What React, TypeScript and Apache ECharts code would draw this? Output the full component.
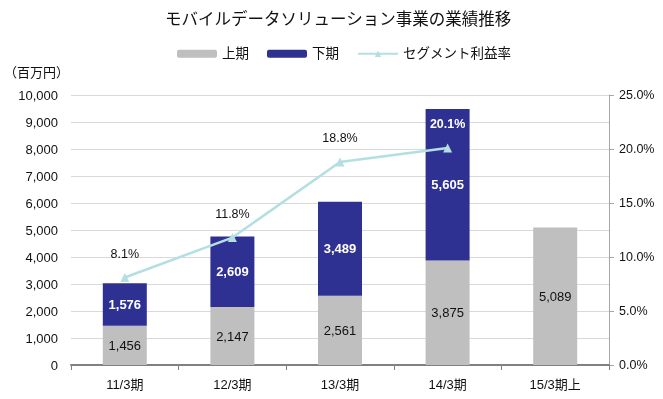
import React, { useEffect, useRef } from "react";
import * as echarts from "echarts";

const categories = ["11/3期", "12/3期", "13/3期", "14/3期", "15/3期上"];
const firstHalf = [1456, 2147, 2561, 3875, 5089];
const secondHalf: (number | null)[] = [1576, 2609, 3489, 5605, null];
const marginRate: (number | null)[] = [8.1, 11.8, 18.8, 20.1, null];
const leftTicks = { min: 0, max: 10000, interval: 1000 };
const rightTicks = { min: 0, max: 25, interval: 5 };

const FONT = "'Liberation Sans', 'Noto Sans CJK JP', sans-serif";

export default function App() {
  const ref = useRef<HTMLDivElement>(null);
  useEffect(() => {
    if (!ref.current) return;
    const chart = echarts.init(ref.current, null, { renderer: "svg" });
    const fmt = (v: number) => v.toLocaleString("en-US");
    chart.setOption({
      animation: false,
      textStyle: { fontFamily: FONT },
      title: {
        text: "モバイルデータソリューション事業の業績推移",
        left: 160,
        top: 6,
        textStyle: { fontSize: 16.5, fontWeight: "normal", color: "#111", fontFamily: FONT },
      },
      legend: {
        top: 42,
        left: 172,
        itemWidth: 40,
        itemHeight: 8,
        itemGap: 18,
        textStyle: { fontSize: 13.5, color: "#111", fontFamily: FONT },
        data: ["上期", "下期", "セグメント利益率"],
      },
      graphic: [
        {
          type: "text",
          left: 4,
          top: 66,
          style: { text: "（百万円）", fontSize: 13, fill: "#111", fontFamily: FONT },
        },
      ],
      grid: { left: 71, right: 54, top: 95, bottom: 34 },
      xAxis: {
        type: "category",
        data: categories,
        axisLine: { lineStyle: { color: "#808080", width: 2 } },
        axisTick: { show: true, length: 5, lineStyle: { color: "#808080" } },
        axisLabel: { fontSize: 13, color: "#111", margin: 13, fontFamily: FONT },
      },
      yAxis: [
        {
          type: "value",
          ...leftTicks,
          axisLine: { show: false },
          axisTick: { show: false },
          axisLabel: { fontSize: 13, color: "#111", margin: 13, formatter: fmt },
          splitLine: { lineStyle: { color: "#d9d9d9" } },
        },
        {
          type: "value",
          ...rightTicks,
          position: "right",
          axisLine: { show: true, lineStyle: { color: "#a6a6a6" } },
          axisTick: { show: true, length: 5, lineStyle: { color: "#a6a6a6" } },
          axisLabel: { fontSize: 12.5, color: "#111", margin: 10, formatter: (v: number) => v.toFixed(1) + "%" },
          splitLine: { show: false },
        },
      ],
      series: [
        {
          name: "上期",
          type: "bar",
          stack: "total",
          barWidth: 44,
          itemStyle: { color: "#bfbfbf" },
          label: { show: true, position: "inside", color: "#111", fontSize: 13, formatter: (p: any) => fmt(p.value) },
          data: firstHalf,
        },
        {
          name: "下期",
          type: "bar",
          stack: "total",
          barWidth: 44,
          itemStyle: { color: "#2e3192" },
          label: {
            show: true,
            position: "inside",
            color: "#fff",
            fontWeight: "bold",
            fontSize: 13,
            formatter: (p: any) => (p.value == null ? "" : fmt(p.value)),
          },
          data: secondHalf,
        },
        {
          name: "セグメント利益率",
          type: "line",
          yAxisIndex: 1,
          symbol: "triangle",
          symbolSize: 9,
          lineStyle: { color: "#b4dfe2", width: 2.5 },
          itemStyle: { color: "#b4dfe2" },
          label: {
            show: true,
            position: "top",
            distance: 13,
            fontSize: 12.5,
            color: "#111",
            formatter: (p: any) => (p.value == null ? "" : p.value.toFixed(1) + "%"),
          },
          data: marginRate.map((v, i) =>
            i === marginRate.length - 2
              ? { value: v, label: { color: "#fff", fontWeight: "bold" } }
              : v
          ),
        },
      ],
    });
    return () => chart.dispose();
  }, []);
  return <div ref={ref} style={{ position: "fixed", left: 0, top: 0, width: 663, height: 399 }} />;
}
